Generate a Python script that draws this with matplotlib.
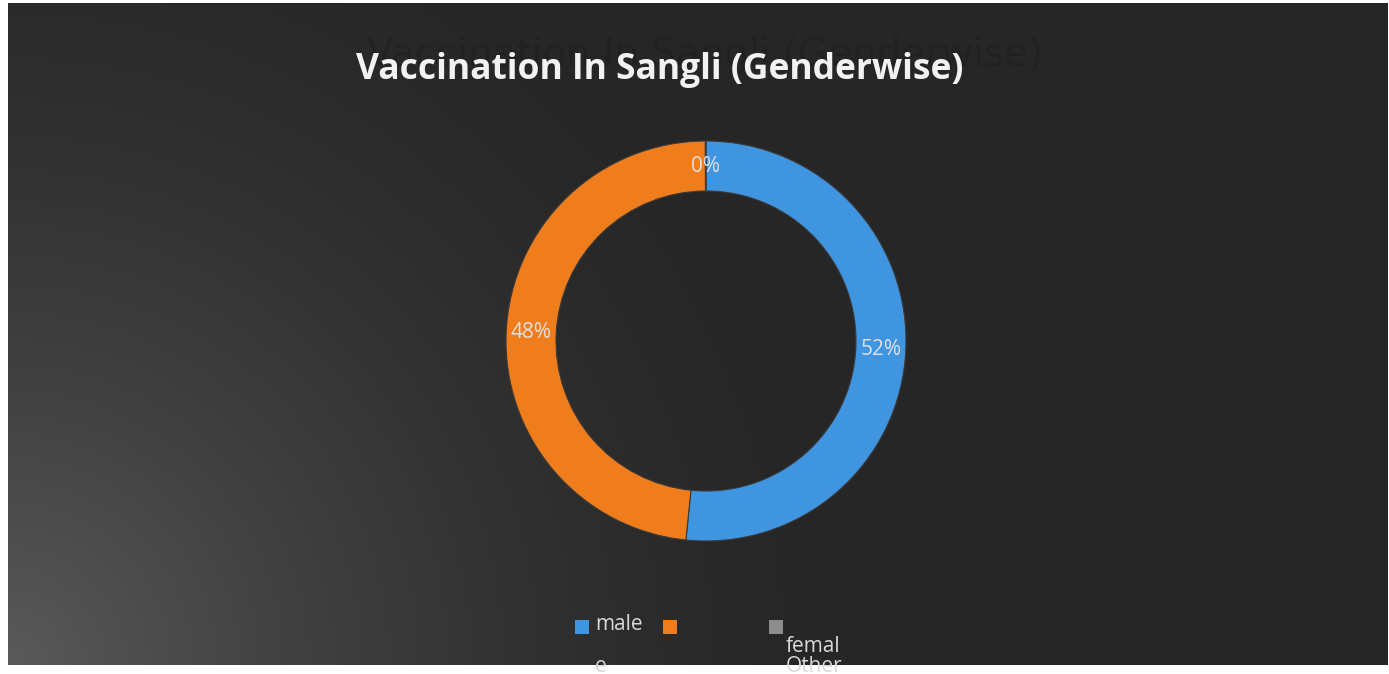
import matplotlib
matplotlib.use('Agg')
import matplotlib.pyplot as plt
import numpy as np
from matplotlib.patches import Rectangle

# data
labels = ['male', 'female', 'Other']
values = [51.6, 48.35, 0.05]
colors = ['#3f95e0', '#f07d1c', '#8c8c8c']
title = 'Vaccination In Sangli (Genderwise)'

W, H = 1389, 674
fig = plt.figure(figsize=(W / 100, H / 100), dpi=100, facecolor='white')

def fx(x):
	return x / W

def fy(y):  # y in pixels from the top
	return 1 - y / H

# dark panel with a light glow in the bottom-left corner
pl, pt, pr, pb = 8, 3, 1388, 665
bg = fig.add_axes([fx(pl), fy(pb), (pr - pl) / W, (pb - pt) / H])
xx, yy = np.meshgrid(np.arange(pr - pl), np.arange(pb - pt))
d = np.sqrt(xx ** 2 + ((pb - pt) - yy) ** 2)
v = np.clip(1 - d / 850, 0, 1) ** 1.6
shade = (0x26 + (0x5a - 0x26) * v) / 255
img = np.dstack([shade, shade, shade])
bg.imshow(img, aspect='auto', interpolation='bilinear')
bg.set_axis_off()

# faint shadow title behind
fig.text(fx(705), fy(55), title, ha='center', va='center', fontsize=28,
		 family='DejaVu Sans', color='#1e1e1e', alpha=0.5, zorder=1)
fig.text(fx(660), fy(70), title, ha='center', va='center', fontsize=25.5,
		 family='Open Sans', fontweight='bold', color='#f2f2f2', zorder=2)

# donut
cx, cy, r = 706, 341, 200
ax = fig.add_axes([fx(cx - r), fy(cy + r), 2 * r / W, 2 * r / H])
wedges, _, autotexts = ax.pie(values, colors=colors, startangle=90, counterclock=False,
							  radius=1, autopct='%1.0f%%', pctdistance=0.875,
							  wedgeprops=dict(width=0.25, edgecolor='#3a3a3a', linewidth=0.8),
							  textprops=dict(color='#e0e0e0', fontsize=15, family='Open Sans'))
ax.set_xlim(-1, 1)
ax.set_ylim(-1, 1)
ax.set_axis_off()

# legend (wrapped like the original)
leg_color = '#d9d9d9'
sq = 14
for (x, y), c in zip([(575, 620), (663, 620), (769, 620)], colors):
	fig.add_artist(Rectangle((fx(x), fy(y + sq)), sq / W, sq / H, transform=fig.transFigure,
							 facecolor=c, edgecolor='none'))
fig.text(fx(595), fy(624), 'male', ha='left', va='center', fontsize=15,
		 family='Open Sans', color=leg_color)
fig.text(fx(595), fy(667), 'e', ha='left', va='center', fontsize=15,
		 family='Open Sans', color=leg_color)
fig.text(fx(786), fy(646), 'femal', ha='left', va='center', fontsize=15,
		 family='Open Sans', color=leg_color)
fig.text(fx(786), fy(667), labels[2], ha='left', va='center', fontsize=15,
		 family='Open Sans', color=leg_color)

fig.savefig('out.png', dpi=100, facecolor='white')
